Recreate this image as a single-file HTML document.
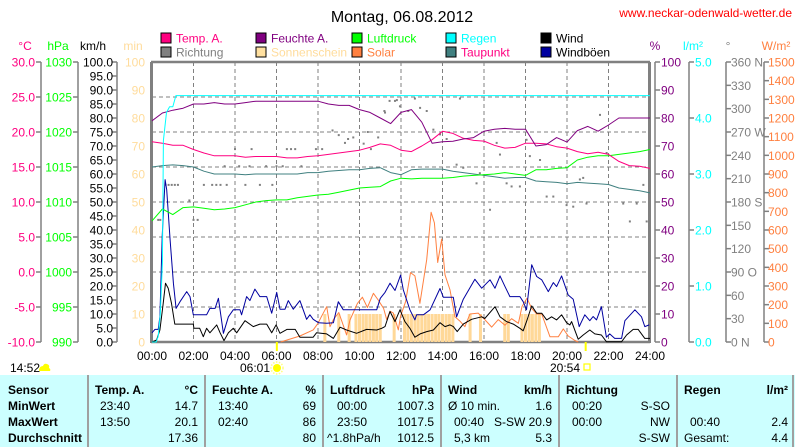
<!DOCTYPE html>
<html><head><meta charset="utf-8"><style>
html,body{margin:0;padding:0;background:#fff;width:800px;height:447px;overflow:hidden}
svg{display:block;font-family:"Liberation Sans",sans-serif;font-size:12px}
</style></head><body>
<svg id="chart" width="800" height="447" viewBox="0 0 800 447" xmlns="http://www.w3.org/2000/svg">
<text x="402" y="22" font-size="16" text-anchor="middle" fill="#000">Montag, 06.08.2012</text>
<text x="792" y="17" font-size="12" text-anchor="end" fill="#ff0000">www.neckar-odenwald-wetter.de</text>
<g id="legend"></g>
<g id="axes"></g>
<g id="plot"></g>
<g id="table"></g>
</svg>
<script>
// ---- data ----
const halfHours = [0,0.5,1,1.5,2,2.5,3,3.5,4,4.5,5,5.5,6,6.5,7,7.5,8,8.5,9,9.5,10,10.5,11,11.5,12,12.5,13,13.5,14,14.5,15,15.5,16,16.5,17,17.5,18,18.5,19,19.5,20,20.5,21,21.5,22,22.5,23,23.5,24];
const tempC = [18.6,18.4,18.1,18.1,17.5,17.0,16.6,16.6,16.6,16.4,16.5,16.5,16.5,16.3,16.3,16.5,16.6,16.8,17.0,17.2,17.4,17.8,18.3,18.1,17.4,17.2,18.0,18.9,20.1,19.8,19.1,18.8,18.7,18.1,17.7,17.8,18.4,18.4,18.3,17.9,17.7,17.2,16.9,17.1,16.8,15.8,15.2,15.1,14.8];
const humidity = [79,81.8,82.8,83.5,85,85,85.5,85,85,85.5,86,86,86,86,86,86,86,85,84.5,84.5,83,82,80,78,82,83,78.5,71,71.5,71.7,72.5,73,75.3,76,76.3,76,76,70,70.5,73,71.4,75.5,77,75.3,77.5,80,80,80,80];
const pressure = [1007.3,1009.0,1008.2,1009.2,1009.3,1009.1,1008.9,1009.0,1009.2,1009.6,1010.0,1010.2,1010.3,1010.3,1010.6,1010.8,1011.0,1011.1,1011.4,1011.7,1012.0,1012.1,1012.2,1013.0,1013.4,1013.3,1013.4,1013.4,1013.4,1013.5,1013.7,1013.8,1013.9,1014.0,1014.2,1014.0,1013.8,1014.6,1014.6,1014.8,1014.9,1016.0,1016.4,1016.6,1016.6,1016.8,1017.0,1017.2,1017.5];
const dewPoint = [15.0,15.2,15.3,15.2,15.0,14.4,14.0,14.0,14.0,13.9,14.0,14.0,14.0,14.0,14.0,14.2,14.2,14.4,14.5,14.6,14.6,14.8,14.9,14.2,13.9,14.6,14.7,14.7,14.7,14.4,14.2,14.0,13.8,13.6,13.4,13.5,13.5,13.0,12.9,12.8,12.6,12.8,12.7,12.6,12.5,12.0,11.8,11.6,11.3];
const rainHours = [0,0.2,0.3,0.4,0.5,0.55,0.7,0.85,1.0,1.15,24];
const rainTotal = [0,0,0.1,0.5,1.4,3.6,4.1,4.2,4.2,4.4,4.4];
const gustHours = [0,0.14,0.3,0.38,0.49,0.63,0.71,0.87,1.03,1.16,1.35,1.67,1.83,1.99,2.63,2.79,3.04,3.2,3.44,3.68,3.92,4.24,4.32,4.56,4.72,4.96,5.2,5.53,5.77,6.01,6.17,6.41,6.57,6.81,7.13,7.45,7.61,7.77,8.02,8.42,8.74,8.98,9.22,9.38,10.34,10.83,11.0,11.23,11.47,11.71,11.98,12.11,12.43,12.67,12.75,13.08,13.4,13.88,14.04,14.52,14.68,15.0,15.56,15.89,16.29,16.53,16.77,17.01,17.25,17.73,17.89,18.05,18.3,18.54,18.78,19.1,19.34,19.5,19.74,20.06,20.3,20.59,20.86,21.1,21.26,21.42,21.66,21.9,22.06,22.3,22.63,22.79,23.27,23.59,23.75,23.96];
const gustKmh = [3.3,4.5,4.5,9,37.7,58,54.4,36.5,21,12,14.4,18,16.2,9.7,9.7,12,12,15.6,3.1,9,11.5,11.5,9.7,16.2,14.8,18.9,16.2,16.2,10.3,17.7,11.7,11.7,14.8,11.7,14.8,8.1,9.7,8.1,6.9,6.7,6.9,14.4,11.5,11.5,11.5,11.5,15.6,17.7,21,18.4,23.9,18.6,11.5,7.9,9.7,9.7,11.5,19.1,16,16,9,15.3,22.4,19.2,22.2,19.2,23.6,19.8,16.2,16.2,14.4,11.5,27.6,23.4,22.2,18,21.2,19.8,23.6,16.8,15.3,5.5,9.7,7.6,9.1,7.9,12.6,1.7,2.9,1.3,1.3,7.6,11.5,9,5.5,6.1];
const windHours = [0,0.22,0.38,0.54,0.65,0.78,0.94,1.1,1.99,2.02,2.3,2.47,2.63,2.79,3.12,3.28,3.47,3.68,3.92,4.08,4.48,4.88,5.2,5.53,5.77,5.98,6.17,6.5,6.9,7.13,7.77,7.93,8.42,8.74,9.06,9.38,9.86,10.34,10.83,11.07,11.23,11.47,11.71,11.95,12.19,12.43,12.67,12.92,13.24,13.56,13.88,14.12,14.36,14.52,14.71,15.0,15.4,15.89,16.04,16.53,16.77,17.09,17.41,17.73,17.89,18.05,18.3,18.54,18.78,19.02,19.26,19.5,19.74,19.98,20.14,20.22,20.54,20.78,21.1,21.34,21.66,21.9,22.22,22.63,22.87,23.19,23.43,23.75,24];
const windKmh = [0,0.7,4.3,13.8,21,19.2,13.8,6.4,6.4,4.9,4.9,1.9,4.9,3.3,6.1,3.3,0.5,3.3,4.9,3.3,7.6,5.5,6.4,6.4,3.3,6.1,3.1,4.5,4.5,1.7,1.7,3.3,2.9,1.3,5.3,4.3,3.1,4.5,4.3,4.9,5.5,10.9,7.3,11.5,7.3,4.9,1.7,2.9,3.7,4.3,6.9,5.5,6.1,5.5,3.7,6.4,8.1,9,8.4,12.6,9,7.3,6.4,4.9,4,7.3,12.9,10.3,10.3,7.9,9,7.9,9.7,6.9,6.1,7.3,1,2.5,4.3,2.9,2.5,0.1,0.1,0.1,2.5,4.5,4.5,1.3,1.3];
const solarHours = [6.2,7.13,7.77,8.0,8.16,8.42,8.58,8.74,9.0,9.38,9.54,9.9,10.14,10.38,10.67,10.9,11.16,11.31,11.47,11.63,11.87,11.98,12.22,12.46,12.67,12.91,13.24,13.45,13.61,13.77,13.96,14.12,14.36,14.6,14.84,15.08,15.32,15.72,16.04,16.37,16.69,17.01,17.33,17.66,17.83,18.07,18.3,18.54,18.78,19.18,19.58,19.82,20.06,20.38,20.54];
const solarWm2 = [0,32,65,100,135,189,82,120,158,38,118,207,240,185,261,225,180,120,165,155,65,140,216,372,354,207,441,695,638,426,552,360,279,135,112,82,150,155,120,80,120,90,125,100,190,234,180,150,150,28,28,70,32,8,0];
const sunHours = [8.33,9.0,9.5,9.83,10.0,10.17,10.33,10.5,10.67,10.83,11.0,11.67,12.17,12.33,12.5,12.67,12.83,13.0,13.17,13.33,13.5,13.67,13.83,14.0,14.17,14.33,14.5,15.33,15.83,17.0,17.17,17.83,18.0,18.17,18.33,18.5,18.67];
const sunMinutes = [10,10,10,10,10,10,10,10,10,10,10,10,10,10,10,10,10,10,10,10,10,10,10,10,10,10,10,10,10,10,10,10,10,10,10,10,10];
const dirHours = [0.3,0.4,0.65,0.8,0.95,1.1,1.25,1.8,2.0,2.2,2.5,2.9,3.1,3.3,3.6,3.5,4.0,4.2,4.5,4.7,4.8,5.2,5.5,5.8,6.0,6.3,6.5,6.7,6.9,7.2,7.9,8.2,8.7,9.0,9.3,9.45,9.7,10.2,10.4,10.55,10.9,11.2,11.45,11.8,11.23,11.71,11.95,12.35,12.67,12.92,13.24,13.56,13.88,14.2,14.84,14.68,15.0,15.64,15.8,16.29,16.61,16.77,17.09,17.33,17.73,18.05,18.21,18.7,19.02,19.34,19.98,20.3,20.62,20.78,20.94,21.59,21.91,22.71,23.03,23.36,23.68,23.84];
const dirDeg = [157,157,202,202,202,202,202,182,157,157,202,202,202,202,202,226,248,226,202,226,248,202,226,202,226,226,248,248,248,226,248,248,272,266,256,261,263,255,270,248,263,297,310,311,295,310,303,297,313,301,297,273,267,261,313,228,224,204,217,170,256,241,204,200,200,260,239,234,187,187,176,174,209,211,178,292,243,178,155,178,202,155];
const xTickLabels = ["00:00","02:00","04:00","06:00","08:00","10:00","12:00","14:00","16:00","18:00","20:00","22:00","24:00"];

// ---- scales ----
const NS="http://www.w3.org/2000/svg";
const X0=152, X1=650, YT=62, YB=342;
const X = h => X0 + h*(X1-X0)/24;
const P = p => YB - p*(YB-YT)/100;
const yTemp = t => P((t+10)*2.5);
const yPres = v => P((v-990)*2.5);
const yRain = r => P(r*20);
const yWind = k => P(k);
const ySolar = w => P(w/15);
const yDir = d => P(d/3.6);
const ySun = m => P(m);
function el(tag, attrs, parent, text){const e=document.createElementNS(NS,tag);for(const k in attrs)e.setAttribute(k,attrs[k]);if(text!==undefined)e.textContent=text;parent.appendChild(e);return e;}
const plot=document.getElementById('plot'), axes=document.getElementById('axes'), legend=document.getElementById('legend'), table=document.getElementById('table');

// ---- legend ----
const legendItems=[["Temp. A.","#ff0080","#ff0080",161,38],["Feuchte A.","#800080","#800080",256,38],["Luftdruck","#00ff00","#00ff00",352,38],["Regen","#00ffff","#00ffff",446,38],["Wind","#000000","#000000",541,38],
["Richtung","#808080","#808080",161,52],["Sonnenschein","#ffe0a0","#ffdc9c",256,52],["Solar","#ff8040","#ff8040",352,52],["Taupunkt","#408080","#ff0080",446,52],["Windböen","#0000a0","#000000",541,52]];
legendItems.forEach(it=>{
  const g=el('g',{},legend);
  
  
  el('rect',{x:it[3],y:it[4]-5,width:10,height:10,fill:it[1],stroke:'#000','stroke-width':1},g);
  el('text',{x:it[3]+15,y:it[4]+4.5,fill:it[2]},g,it[0]);
});

// ---- axes ----
const axisGray="#808080";
function vAxis(lineX, labels, color, side, labelX, anchor, name, unit, unitX){
  const g=el('g',{},axes);
  
  
  if(lineX!==null) el('line',{x1:lineX,y1:YT,x2:lineX,y2:YB,stroke:axisGray,'stroke-width':1.5},g);
  const n=labels.length-1;
  labels.forEach((lb,i)=>{
    const y=YT+i*(YB-YT)/n;
    if(lineX!==null) el('line',{x1:lineX,y1:y,x2:lineX+side*5,y2:y,stroke:axisGray,'stroke-width':1.5},g);
    if(lb!=="") el('text',{x:labelX,y:y+4.5,fill:color,'text-anchor':anchor},g,lb);
  });
  el('text',{x:unitX,y:50,fill:color,'text-anchor':'middle'},g,unit);
}
const cLabels=["30.0","25.0","20.0","15.0","10.0","5.0","0.0","-5.0","-10.0"];
const hpaLabels=["1030","1025","1020","1015","1010","1005","1000","995","990"];
const kmhLabels=[];for(let v=100;v>=0;v-=5)kmhLabels.push(v.toFixed(1));
const minLabels=["100","90","80","70","60","50","40","30","20","10","0"];
const pctLabels=["100","90","80","70","60","50","40","30","20","10","0"];
const rainLabels=["5.0","4.0","3.0","2.0","1.0","0.0"];
const degLabels=["360 N","330","300","270 W","240","210","180 S","150","120","90 O","60","30","0 N"];
const wLabels=[];for(let v=1500;v>=0;v-=100)wLabels.push(String(v));
vAxis(41,cLabels,"#ff0080",-1,35,"end","temp-axis","°C",25);
vAxis(78,hpaLabels,"#00ff00",-1,72,"end","pressure-axis","hPa",58);
vAxis(117,kmhLabels,"#000000",-1,113,"end","wind-axis","km/h",93);
vAxis(null,minLabels,"#ffdc9c",-1,145,"end","sunshine-axis","min",133);
vAxis(655,pctLabels,"#800080",1,661,"start","humidity-axis","%",655);
vAxis(689,rainLabels,"#00ffff",1,695,"start","rain-axis","l/m²",693);
vAxis(726,degLabels,"#808080",1,731,"start","direction-axis","°",728);
vAxis(764,wLabels,"#ff8040",1,768,"start","solar-axis","W/m²",776);

// ---- grid & frame ----
const grid=el('g',{},plot);


for(let i=1;i<8;i++){const y=YT+i*(YB-YT)/8;el('line',{x1:X0,y1:y,x2:X1,y2:y,stroke:'#808080','stroke-dasharray':'4,3'},grid);}
for(let h=2;h<24;h+=2){el('line',{x1:X(h),y1:YT,x2:X(h),y2:YB,stroke:'#808080','stroke-dasharray':'4,3'},grid);}
el('line',{x1:X0-1,y1:YT,x2:X1,y2:YT,stroke:'#808080','stroke-width':2.5},grid);
el('line',{x1:X0-1,y1:YB,x2:X1,y2:YB,stroke:'#808080','stroke-width':2.5},grid);
el('line',{x1:X0-0.5,y1:YT,x2:X0-0.5,y2:YB+1,stroke:'#808080','stroke-width':3},grid);
el('line',{x1:X1-0.5,y1:YT,x2:X1-0.5,y2:YB+1,stroke:'#808080','stroke-width':3},grid);

// x ticks labels
xTickLabels.forEach((lb,i)=>{
  const t=el('text',{x:X(i*2),y:360,'text-anchor':'middle',fill:'#000'},axes,lb);
  
  
});

// ---- series ----
sunHours.forEach((h,i)=>{
  const r=el('rect',{x:X(h)-1.5,y:ySun(sunMinutes[i]),width:3,height:YB-ySun(sunMinutes[i]),fill:'#ffd898'},plot);
  
  
});
dirHours.forEach((h,i)=>{
  const r=el('rect',{x:X(h)-1,y:yDir(dirDeg[i])-1,width:2,height:2,fill:'#808080'},plot);
  
  
});
function line(xs,ys,fy,color,name){
  const pts=xs.map((h,i)=>X(h).toFixed(1)+','+fy(ys[i]).toFixed(1)).join(' ');
  const p=el('polyline',{points:pts,fill:'none',stroke:color,'stroke-width':1,'stroke-linejoin':'round'},plot);
  
  
}
line(solarHours,solarWm2,ySolar,'#ff8040','solar-line');
line(windHours,windKmh,yWind,'#000000','wind-line');
line(gustHours,gustKmh,yWind,'#0000a0','gust-line');
line(halfHours,dewPoint,yTemp,'#408080','dewpoint-line');
line(halfHours,pressure,yPres,'#00ff00','pressure-line');
line(halfHours,tempC,yTemp,'#ff0080','temperature-line');
line(halfHours,humidity,P,'#800080','humidity-line');
line(rainHours,rainTotal,yRain,'#00ffff','rain-line');

// sunrise / sunset markers
const sr=el('line',{x1:X(6+1/60),y1:YB,x2:X(6+1/60),y2:YB+9,stroke:'#ffff00','stroke-width':2},plot);


const ss=el('line',{x1:X(20.9),y1:YB,x2:X(20.9),y2:YB+9,stroke:'#ffff00','stroke-width':2},plot);


el('text',{x:270,y:372,'text-anchor':'end',fill:'#000'},axes,'06:01');
const sun=el('g',{},axes);


el('circle',{cx:277,cy:368,r:4,fill:'#ffff00'},sun);
el('circle',{cx:277,cy:368,r:6,fill:'none',stroke:'#ffff80','stroke-width':1.5,'stroke-dasharray':'1.5,1.5'},sun);
el('text',{x:580,y:372,'text-anchor':'end',fill:'#000'},axes,'20:54');
const ssi=el('rect',{x:584,y:364,width:6,height:6,fill:'none',stroke:'#ffff00','stroke-width':1.2},axes);


el('text',{x:10,y:372,fill:'#000'},axes,'14:52');
const cl=el('path',{d:'M39 371 Q39 366 43 366 Q44 363 47 364 Q50 365 49 368 Q51 369 50 371 Z',fill:'#ffff00'},axes);



// ---- table ----
el('rect',{x:0,y:375,width:795,height:72,fill:'#ccffff'},table);
[88,205,323,441,559,677,793].forEach(x=>{el('line',{x1:x,y1:375,x2:x,y2:447,stroke:'#a0a0a0','stroke-width':2},table);});
const rowsY=[394,410,426,442];
function tt(x,y,s,anchor,bold){const t=el('text',{x:x,y:y,'text-anchor':anchor||'start','font-weight':bold?'bold':'normal',fill:'#000'},table,s);return t;}
["Sensor","MinWert","MaxWert","Durchschnitt"].forEach((s,i)=>tt(8,rowsY[i],s,'start',true));
const cols=[
 [95,198,"Temp. A.","°C",[["23:40","14.7"],["13:50","20.1"],["","17.36"]],100],
 [212,316,"Feuchte A.","%",[["13:40","69"],["02:40","86"],["","80"]],218],
 [330,434,"Luftdruck","hPa",[["00:00","1007.3"],["23:50","1017.5"],["^1.8hPa/h","1012.5"]],337],
 [448,552,"Wind","km/h",[["Ø 10 min.","1.6"],["00:40","S-SW 20.9"],["5,3 km","5.3"]],454],
 [566,670,"Richtung","",[["00:20","S-SO"],["00:00","NW"],["","S-SW"]],572],
 [684,788,"Regen","l/m²",[["",""],["00:40","2.4"],["Gesamt:","4.4"]],690]
];
cols.forEach(c=>{
  tt(c[0],rowsY[0],c[2],'start',true);
  if(c[3]) tt(c[1],rowsY[0],c[3],'end',true);
  c[4].forEach((r,i)=>{
    let lx=c[5];
    if(r[0]==="Ø 10 min."||r[0]==="Gesamt:") lx=c[0];
    if(r[0]==="^1.8hPa/h") lx=c[0]-3;
    if(r[0]) tt(lx,rowsY[i+1],r[0]);
    if(r[1]) tt(c[1],rowsY[i+1],r[1],'end');
  });
});
</script>
</body></html>
